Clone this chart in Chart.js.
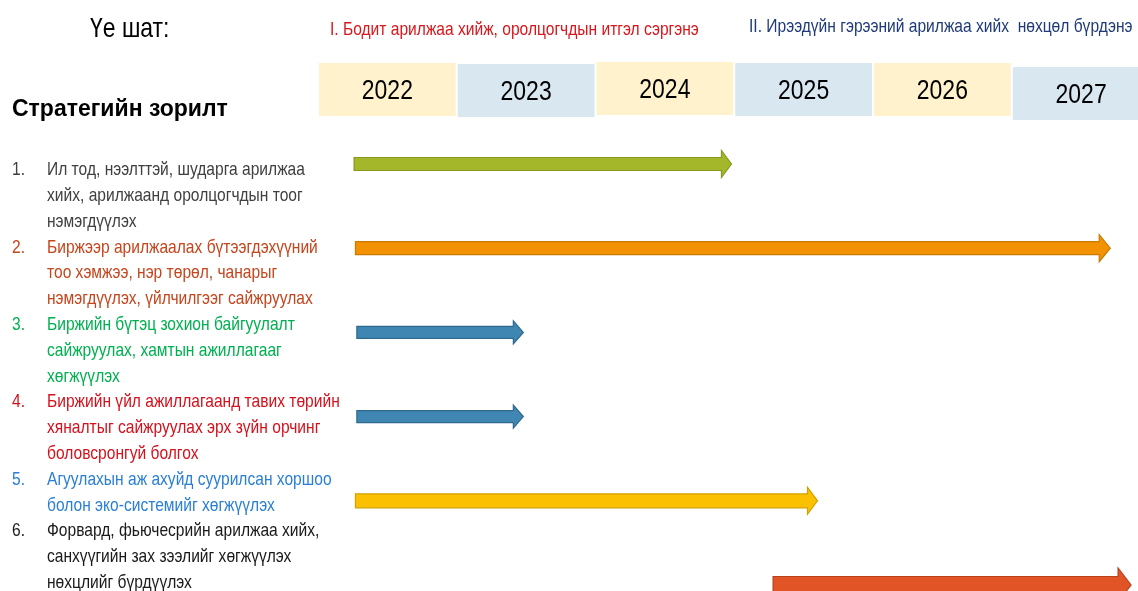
<!DOCTYPE html>
<html>
<head>
<meta charset="utf-8">
<script src="https://cdn.jsdelivr.net/npm/chart.js@4.4.1/dist/chart.umd.min.js"></script>
<style>
  html, body { margin: 0; padding: 0; background: #fff; }
  #wrap { width: 1138px; height: 591px; position: relative; }
</style>
</head>
<body>
<div id="wrap"><canvas id="c" width="1138" height="591"></canvas></div>
<script>
// --- data ---
const years = [2022, 2023, 2024, 2025, 2026, 2027];
const stageTitles = [
  'I. Бодит арилжаа хийж, оролцогчдын итгэл сэргэнэ',
  'II. Ирээдүйн гэрээний арилжаа хийх  нөхцөл бүрдэнэ'
];
const goals = [
  ['Ил тод, нээлттэй, шударга арилжаа', 'хийх, арилжаанд оролцогчдын тоог', 'нэмэгдүүлэх'],
  ['Биржээр арилжаалах бүтээгдэхүүний', 'тоо хэмжээ, нэр төрөл, чанарыг', 'нэмэгдүүлэх, үйлчилгээг сайжруулах'],
  ['Биржийн бүтэц зохион байгуулалт', 'сайжруулах, хамтын ажиллагааг', 'хөгжүүлэх'],
  ['Биржийн үйл ажиллагаанд тавих төрийн', 'хяналтыг сайжруулах эрх зүйн орчинг', 'боловсронгуй болгох'],
  ['Агуулахын аж ахуйд суурилсан хоршоо', 'болон эко-системийг хөгжүүлэх'],
  ['Форвард, фьючесрийн арилжаа хийх,', 'санхүүгийн зах зээлийг хөгжүүлэх', 'нөхцлийг бүрдүүлэх']
];
const startYear = [2022.26, 2022.27, 2022.28, 2022.28, 2022.27, 2025.28];
const endYear   = [2024.98, 2027.71, 2023.48, 2023.48, 2025.60, 2027.86];

// --- styles ---
const goalColors = ['#404040', '#c5451c', '#00b050', '#d4111c', '#2a7fd4', '#1a1a1a'];
const arrowFill = ['#a4b72b', '#f39200', '#3f87b2', '#3f87b2', '#fbc000', '#e05426'];
const arrowLine = ['#87981f', '#c97a00', '#2e6a8e', '#2e6a8e', '#d4a200', '#b8421c'];
const shaftH = [13, 13, 12, 12, 14, 17];
const headH = [27, 27, 23, 23, 27, 34];
const headL = [10, 11, 10, 10, 10, 13];
const boxFill = ['#fff2cc', '#d9e7f0'];
const boxTop = [63, 64, 62, 63, 63, 67];

// pick a condensed face if there is one, else squeeze Liberation Sans
const probe = document.createElement('canvas').getContext('2d');
function w(f) { probe.font = f; return probe.measureText('Стратегийн зорилт 2022').width; }
const hasNarrow = w('20px "Liberation Sans Narrow", monospace') !== w('20px monospace');
const NARROW = hasNarrow ? '"Liberation Sans Narrow"' : '"Liberation Sans", Arial';
const SQ = hasNarrow ? 1 : 0.82;

function text(ctx, str, x, y, size, color, opts) {
  opts = opts || {};
  ctx.save();
  const face = opts.wide ? '"Liberation Sans", Arial' : NARROW;
  ctx.font = (opts.bold ? 'bold ' : '') + size + 'px ' + face;
  ctx.fillStyle = color;
  ctx.textBaseline = 'middle';
  ctx.textAlign = opts.align || 'left';
  ctx.translate(x, y);
  ctx.scale(opts.wide ? 1 : SQ, 1);
  ctx.fillText(str, 0, 0);
  ctx.restore();
}

const timelinePlugin = {
  id: 'timeline',
  afterDatasetsDraw(chart) {
    const ctx = chart.ctx;
    const xs = chart.scales.x;
    // year header boxes
    years.forEach((yr, i) => {
      const x0 = xs.getPixelForValue(yr) + 1;
      const x1 = xs.getPixelForValue(yr + 1) - 1;
      ctx.fillStyle = boxFill[i % 2];
      ctx.fillRect(x0, boxTop[i], x1 - x0, 53);
      text(ctx, String(yr), (x0 + x1) / 2, boxTop[i] + 28, 28, '#000', { align: 'center' });
    });
    // arrows
    const meta = chart.getDatasetMeta(0);
    meta.data.forEach((el, i) => {
      const p = el.getProps(['x', 'y', 'base'], true);
      const x0 = Math.min(p.x, p.base), x1 = Math.max(p.x, p.base);
      const h = shaftH[i] / 2, H = headH[i] / 2, L = headL[i];
      ctx.save();
      ctx.beginPath();
      ctx.moveTo(x0, p.y - h);
      ctx.lineTo(x1 - L, p.y - h);
      ctx.lineTo(x1 - L, p.y - H);
      ctx.lineTo(x1, p.y);
      ctx.lineTo(x1 - L, p.y + H);
      ctx.lineTo(x1 - L, p.y + h);
      ctx.lineTo(x0, p.y + h);
      ctx.closePath();
      ctx.fillStyle = arrowFill[i];
      ctx.fill();
      ctx.lineWidth = 1.2;
      ctx.strokeStyle = arrowLine[i];
      ctx.stroke();
      ctx.restore();
    });
  },
  afterDraw(chart) {
    const ctx = chart.ctx;
    text(ctx, 'Үе шат:', 90, 29, 28, '#000');
    text(ctx, 'Стратегийн зорилт', 12, 110, 23, '#000', { bold: true, wide: true });
    text(ctx, stageTitles[0], 330, 30, 19, '#d9161c');
    text(ctx, stageTitles[1], 749, 27, 19, '#1f3a78');
    let y = 170;
    goals.forEach((lines, i) => {
      text(ctx, (i + 1) + '.', 12, y, 19, goalColors[i]);
      lines.forEach(line => {
        text(ctx, line, 47, y, 19, goalColors[i]);
        y += 25.8;
      });
    });
  }
};

const ctx = document.getElementById('c').getContext('2d');
new Chart(ctx, {
  type: 'bar',
  data: {
    labels: goals.map(g => g.join(' ')),
    datasets: [{
      data: startYear.map((s, i) => [s, endYear[i]]),
      backgroundColor: 'rgba(0,0,0,0)',
      borderWidth: 0,
      barThickness: 14,
      clip: false
    }]
  },
  options: {
    indexAxis: 'y',
    responsive: false,
    animation: false,
    layout: { padding: { left: 318, right: 0, top: 164, bottom: 6 } },
    scales: {
      x: { type: 'linear', min: 2022, max: 2027.91, display: false },
      y: { display: false, offset: false }
    },
    plugins: { legend: { display: false }, tooltip: { enabled: false } }
  },
  plugins: [timelinePlugin]
});
</script>
</body>
</html>
